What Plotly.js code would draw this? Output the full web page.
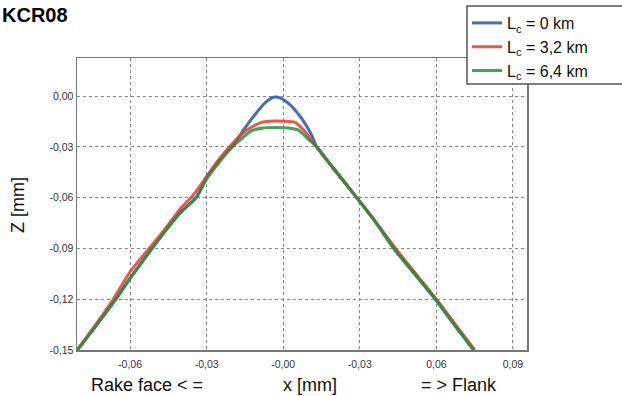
<!DOCTYPE html>
<html>
<head>
<meta charset="utf-8">
<script src="https://cdn.plot.ly/plotly-3.0.1.min.js"></script>
<style>html,body{margin:0;padding:0;background:#fff;}#chart{width:622px;height:396px;}</style>
</head>
<body>
<div id="chart"></div>
<script>
// Data (x [mm], Z [mm])
const blueX = [-0.0807,-0.073,-0.0656,-0.060,-0.0514,-0.046,-0.0405,-0.0341,-0.030,-0.025,-0.0203,-0.0190,-0.0151,-0.0112,-0.0075,-0.0050,-0.0033,-0.0010,0.0010,0.0033,0.0072,0.0111,0.0131,0.0200,0.0288,0.0360,0.0433,0.0520,0.0596,0.0670,0.0747];
const blueY = [-0.150,-0.135,-0.120,-0.1077,-0.090,-0.079,-0.069,-0.060,-0.0477,-0.038,-0.030,-0.028,-0.0191,-0.0112,-0.0045,-0.0015,-0.0006,-0.0012,-0.0030,-0.0060,-0.0132,-0.0230,-0.0300,-0.0430,-0.0600,-0.0740,-0.0900,-0.1060,-0.1200,-0.1350,-0.1500];

const redX = [-0.0807,-0.073,-0.0666,-0.060,-0.0520,-0.046,-0.040,-0.0361,-0.030,-0.025,-0.0205,-0.016,-0.012,-0.0085,-0.005,0.000,0.0046,0.008,0.0110,0.0131,0.020,0.0288,0.036,0.0440,0.052,0.0600,0.067,0.0750];
const redY = [-0.150,-0.134,-0.120,-0.1038,-0.089,-0.078,-0.066,-0.060,-0.0477,-0.037,-0.029,-0.022,-0.018,-0.0155,-0.0148,-0.0148,-0.0155,-0.020,-0.026,-0.030,-0.0435,-0.060,-0.074,-0.090,-0.105,-0.120,-0.134,-0.150];

const greenX = [-0.0807,-0.073,-0.0656,-0.060,-0.0514,-0.046,-0.040,-0.0341,-0.030,-0.025,-0.0205,-0.017,-0.0125,-0.008,-0.003,0.002,0.0059,0.0095,0.0131,0.020,0.0288,0.036,0.0433,0.052,0.0596,0.067,0.0745];
const greenY = [-0.150,-0.135,-0.120,-0.1077,-0.090,-0.0795,-0.0685,-0.060,-0.049,-0.039,-0.031,-0.026,-0.0205,-0.0188,-0.0185,-0.0188,-0.0200,-0.025,-0.030,-0.0435,-0.060,-0.074,-0.090,-0.106,-0.120,-0.135,-0.150];

const seriesNames = ["L<sub>c</sub> = 0 km", "L<sub>c</sub> = 3,2 km", "L<sub>c</sub> = 6,4 km"];
const xTickVals = [-0.06,-0.03,0,0.03,0.06,0.09];
const xTickText = ["-0,06","-0,03","-0,00","-0,03","0,06","0,09"];
const yTickVals = [0,-0.03,-0.06,-0.09,-0.12,-0.15];
const yTickText = ["0,00","-0,03","-0,06","-0,09","-0,12","-0,15"];

const FONT = "Liberation Sans, Arial, Helvetica, sans-serif";
const colors = ["#2456a8","#e8392c","#2b8f3c"];

const traces = [
  {x: blueX, y: blueY, name: seriesNames[0], mode: "lines", line: {color: colors[0], width: 3, shape: "spline", smoothing: 0.6}, opacity: 0.85},
  {x: redX, y: redY, name: seriesNames[1], mode: "lines", line: {color: colors[1], width: 3, shape: "spline", smoothing: 0.6}, opacity: 0.85},
  {x: greenX, y: greenY, name: seriesNames[2], mode: "lines", line: {color: colors[2], width: 3, shape: "spline", smoothing: 0.6}, opacity: 0.85}
];

const layout = {
  width: 622, height: 396,
  margin: {l: 77, r: 95, t: 58, b: 46, autoexpand: false},
  paper_bgcolor: "#fff", plot_bgcolor: "#fff",
  font: {family: FONT, color: "#222"},
  showlegend: true,
  legend: {
    x: 0.8667, y: 1.178, xanchor: "left", yanchor: "top",
    bgcolor: "rgba(0,0,0,0)", borderwidth: 0,
    font: {family: FONT, size: 16, color: "#111"},
    itemwidth: 30, tracegroupgap: 0
  },
  shapes: [
    {type: "rect", xref: "paper", yref: "paper", x0: (467-77)/450, x1: (640-77)/450, y0: (350-84)/292, y1: (350-6)/292,
     fillcolor: "#fff", line: {color: "#555", width: 1.5}, layer: "above"}
  ],
  xaxis: {
    range: [-0.0808, 0.0955],
    tickvals: xTickVals, ticktext: xTickText,
    tickfont: {family: FONT, size: 10.5, color: "#333"},
    ticklabelstandoff: 4,
    showgrid: true, gridcolor: "#8a8a8a", griddash: "dot", gridwidth: 1,
    zeroline: false, showline: true, linecolor: "#777", linewidth: 1.5, mirror: true,
    ticks: "", fixedrange: true
  },
  yaxis: {
    range: [-0.15, 0.0225],
    tickvals: yTickVals, ticktext: yTickText,
    tickfont: {family: FONT, size: 10.5, color: "#333"},
    showgrid: true, gridcolor: "#8a8a8a", griddash: "dot", gridwidth: 1,
    zeroline: false, showline: true, linecolor: "#777", linewidth: 1.5, mirror: true,
    ticks: "", fixedrange: true
  },
  annotations: [
    {text: "<b>KCR08</b>", xref: "paper", yref: "paper", x: (0-77)/450, y: (350-15)/292, xanchor: "left", yanchor: "middle", showarrow: false, font: {family: FONT, size: 20, color: "#000"}},
    {text: "Z [mm]", xref: "paper", yref: "paper", x: (18-77)/450, y: (350-205)/292, xanchor: "center", yanchor: "middle", textangle: -90, showarrow: false, font: {family: FONT, size: 18, color: "#111"}},
    {text: "Rake face < =", xref: "paper", yref: "paper", x: (89-77)/450, y: (350-385)/292, xanchor: "left", yanchor: "middle", showarrow: false, font: {family: FONT, size: 18, color: "#111"}},
    {text: "x [mm]", xref: "paper", yref: "paper", x: (310-77)/450, y: (350-385)/292, xanchor: "center", yanchor: "middle", showarrow: false, font: {family: FONT, size: 18, color: "#111"}},
    {text: "= > Flank", xref: "paper", yref: "paper", x: (499-77)/450, y: (350-385)/292, xanchor: "right", yanchor: "middle", showarrow: false, font: {family: FONT, size: 18, color: "#111"}}
  ]
};

Plotly.newPlot("chart", traces, layout, {displayModeBar: false, staticPlot: true});
</script>
</body>
</html>
